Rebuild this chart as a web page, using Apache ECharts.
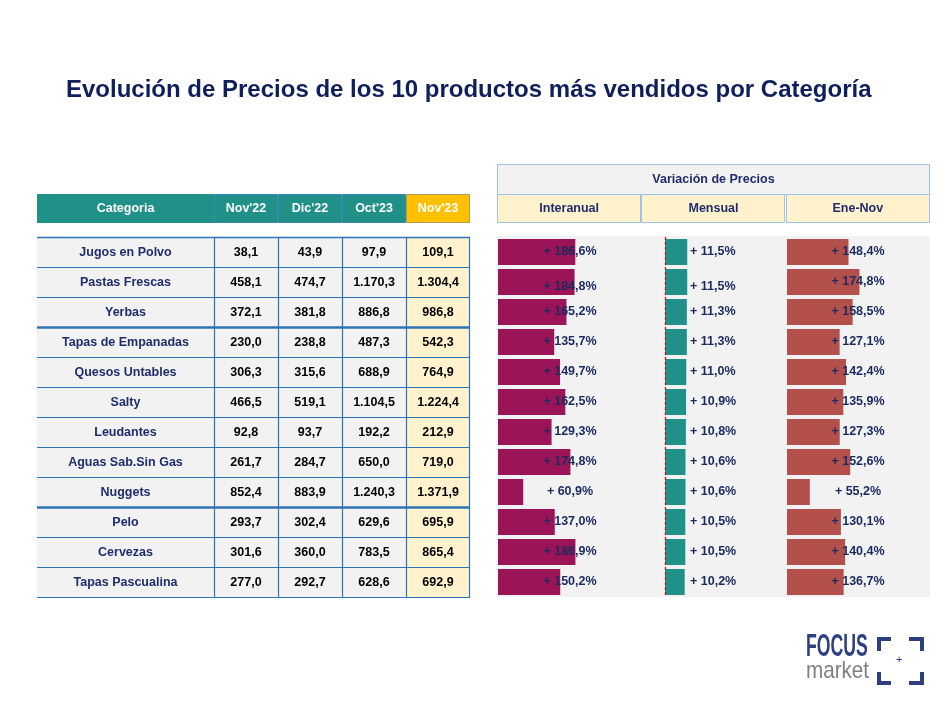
<!DOCTYPE html>
<html><head><meta charset="utf-8">
<script src="https://cdn.jsdelivr.net/npm/echarts@6/dist/echarts.min.js"></script>
<style>html,body{margin:0;padding:0;background:#fff}#c{width:951px;height:717px}</style>
</head><body><div id="c"></div>
<script>
const categories = ['Jugos en Polvo','Pastas Frescas','Yerbas','Tapas de Empanadas','Quesos Untables','Salty','Leudantes','Aguas Sab.Sin Gas','Nuggets','Pelo','Cervezas','Tapas Pascualina'];
const months = ["Nov'22","Dic'22","Oct'23","Nov'23"];
const nov22 = [38.1,458.1,372.1,230.0,306.3,466.5,92.8,261.7,852.4,293.7,301.6,277.0];
const dic22 = [43.9,474.7,381.8,238.8,315.6,519.1,93.7,284.7,883.9,302.4,360.0,292.7];
const oct23 = [97.9,1170.3,886.8,487.3,688.9,1104.5,192.2,650.0,1240.3,629.6,783.5,628.6];
const nov23 = [109.1,1304.4,986.8,542.3,764.9,1224.4,212.9,719.0,1371.9,695.9,865.4,692.9];
const interanual = [186.6,184.8,165.2,135.7,149.7,162.5,129.3,174.8,60.9,137.0,186.9,150.2];
const mensual = [11.5,11.5,11.3,11.3,11.0,10.9,10.8,10.6,10.6,10.5,10.5,10.2];
const eneNov = [148.4,174.8,158.5,127.1,142.4,135.9,127.3,152.6,55.2,130.1,140.4,136.7];
const headerCategoria = 'Categoria';
const varTitle = 'Variación de Precios';
const varHeaders = ['Interanual','Mensual','Ene-Nov'];
const thickAfter = [2, 8];
const titleText = 'Evolución de Precios de los 10 productos más vendidos por Categoría';

const FONT = '"Liberation Sans", Arial, sans-serif';
const TEAL = '#1f9189', GOLD = '#ffc000', CREAM = '#fff2cc', GREY = '#f2f2f2', BLUE = '#2e75b6', NAVY = '#1f2d6b';

function fmt(v){ const p = v.toFixed(1).split('.'); return p[0].replace(/\B(?=(\d{3})+(?!\d))/g,'.') + ',' + p[1]; }
function cell(api, xi, yi){ const c = api.coord([xi, yi]); const s = api.size([1,1]); return {x: Math.round(c[0]-s[0]/2), y: Math.round(c[1]-s[1]/2), w: Math.round(s[0]), h: Math.round(s[1]), cx: c[0], cy: c[1]}; }
function txt(t, x, y, fill, size, align){ return {type:'text', z2:10, style:{text:t, x:x, y:y, align: align||'center', verticalAlign:'middle', fill:fill, font:'bold '+size+'px '+FONT}}; }
function hline(x1,x2,y,w,col){ const yy = w%2 ? Math.round(y)+0.5 : Math.round(y); return {type:'line', z2:5, shape:{x1:x1,y1:yy,x2:x2,y2:yy}, style:{stroke:col,lineWidth:w}}; }
function vline(x,y1,y2,w,col){ const xx = Math.round(x)+0.5; return {type:'line', z2:5, shape:{x1:xx,y1:y1,x2:xx,y2:y2}, style:{stroke:col,lineWidth:w}}; }

const grids=[], xAxes=[], yAxes=[], series=[];
function addGrid(g, xa, ya){ const idx = grids.length; grids.push(Object.assign({containLabel:false}, g)); xAxes.push(Object.assign({gridIndex:idx, show:false}, xa)); yAxes.push(Object.assign({gridIndex:idx, show:false}, ya)); return idx; }

// Left header: Categoria
let g = addGrid({left:37, top:194, width:177, height:29}, {type:'category', data:[headerCategoria]}, {type:'category', data:['h']});
series.push({type:'custom', xAxisIndex:g, yAxisIndex:g, silent:true, data:[[0,0]], renderItem:(p,api)=>{ const b = cell(api,0,0); return {type:'group', children:[
  {type:'rect', shape:{x:b.x,y:b.y,width:b.w,height:b.h}, style:{fill:TEAL}},
  txt(headerCategoria, b.cx, b.cy, '#ffffff', 12.5)]}; }});
// Left header: months
g = addGrid({left:214, top:194, width:256, height:29}, {type:'category', data:months}, {type:'category', data:['h']});
series.push({type:'custom', xAxisIndex:g, yAxisIndex:g, silent:true, data:months.map((m,j)=>[j,0]), renderItem:(p,api)=>{ const j = api.value(0); const b = cell(api,j,0); const last = j===months.length-1; return {type:'group', children:[
  {type:'rect', shape:{x:b.x+0.5,y:b.y+0.5,width:b.w-1,height:b.h-1}, style:{fill: last?GOLD:TEAL, stroke: last?'#b39a50':'#3b86b5', lineWidth:1}},
  txt(months[j], b.cx, b.cy, '#ffffff', 12.5)]}; }});
// Body: category names
g = addGrid({left:37, top:237, width:177, height:360}, {type:'category', data:['n']}, {type:'category', data:categories, inverse:true});
series.push({type:'custom', xAxisIndex:g, yAxisIndex:g, silent:true, data:categories.map((c,i)=>[0,i]), renderItem:(p,api)=>{ const i = api.value(1); const b = cell(api,0,i); const ch = [
  {type:'rect', shape:{x:b.x,y:b.y,width:b.w,height:b.h}, style:{fill:GREY}},
  hline(b.x, b.x+b.w, b.y+b.h, thickAfter.includes(i)?2.5:1, BLUE),
  txt(categories[i], b.cx, b.cy+1, NAVY, 12.5)];
  if(i===0) ch.push(hline(b.x, b.x+b.w, b.y, 1.5, BLUE));
  return {type:'group', children:ch}; }});
// Body: numbers
const cols = [nov22, dic22, oct23, nov23];
const numData = []; categories.forEach((c,i)=>cols.forEach((arr,j)=>numData.push([j,i,arr[i]])));
g = addGrid({left:214, top:237, width:256, height:360}, {type:'category', data:months}, {type:'category', data:categories, inverse:true});
series.push({type:'custom', xAxisIndex:g, yAxisIndex:g, silent:true, data:numData, renderItem:(p,api)=>{ const j = api.value(0), i = api.value(1), v = api.value(2); const b = cell(api,j,i); const ch = [
  {type:'rect', shape:{x:b.x,y:b.y,width:b.w,height:b.h}, style:{fill: j===3?CREAM:GREY}},
  vline(b.x, b.y, b.y+b.h, 1.2, BLUE),
  hline(b.x, b.x+b.w, b.y+b.h, thickAfter.includes(i)?2.5:1, BLUE),
  txt(fmt(v), b.cx, b.cy+1, '#000000', 12.5)];
  if(j===3) ch.push(vline(b.x+b.w-1, b.y, b.y+b.h, 1.2, BLUE));
  if(i===0) ch.push(hline(b.x, b.x+b.w, b.y, 1.5, BLUE));
  return {type:'group', children:ch}; }});
// Right: title cell
g = addGrid({left:497, top:164, width:433, height:30}, {type:'category', data:[varTitle]}, {type:'category', data:['h']});
series.push({type:'custom', xAxisIndex:g, yAxisIndex:g, silent:true, data:[[0,0]], renderItem:(p,api)=>{ const b = cell(api,0,0); return {type:'group', children:[
  {type:'rect', shape:{x:b.x+0.5,y:b.y+0.5,width:b.w-1,height:b.h}, style:{fill:GREY, stroke:'#9dc3e6', lineWidth:1}},
  txt(varTitle, b.cx, b.cy+1, NAVY, 12.5)]}; }});
// Right: sub headers
g = addGrid({left:497, top:194, width:433, height:29}, {type:'category', data:varHeaders}, {type:'category', data:['h']});
series.push({type:'custom', xAxisIndex:g, yAxisIndex:g, silent:true, data:varHeaders.map((m,j)=>[j,0]), renderItem:(p,api)=>{ const j = api.value(0); const b = cell(api,j,0); return {type:'group', children:[
  {type:'rect', shape:{x:b.x+0.5,y:b.y+0.5,width:b.w-1,height:b.h-1}, style:{fill:CREAM, stroke:'#9dc3e6', lineWidth:1}},
  txt(varHeaders[j], b.cx, b.cy, NAVY, 12.5)]}; }});

// Bars
const labelBase = {show:true, color:'#1b2a5e', fontWeight:'bold', fontSize:12.5, fontFamily:FONT, verticalAlign:'middle'};
function barData(arr, shifted){ return arr.map((v,i)=> (shifted && i===1) ? {value:v, label:{offset:[0,5]}} : v); }
g = addGrid({left:498, top:237, width:145, height:360}, {type:'value', min:0, max:350}, {type:'category', data:categories, inverse:true});
series.push({type:'bar', xAxisIndex:g, yAxisIndex:g, data:barData(interanual,true), barWidth:26, itemStyle:{color:'#9b1458'},
  label:Object.assign({}, labelBase, {position:[72,'50%'], align:'center', formatter:p=>'+ '+fmt(p.value)+'%'})});
g = addGrid({left:665, top:237, width:116, height:360}, {type:'value', min:0, max:60}, {type:'category', data:categories, inverse:true});
series.push({type:'bar', xAxisIndex:g, yAxisIndex:g, data:barData(mensual,true), barWidth:26, itemStyle:{color:TEAL},
  label:Object.assign({}, labelBase, {position:[25,'50%'], align:'left', formatter:p=>'+ '+fmt(p.value)+'%'}),
  markLine:{silent:true, z:20, symbol:'none', label:{show:false}, lineStyle:{color:'#ff0000', type:[3,2], width:1.2}, data:[{xAxis:0}]}});
g = addGrid({left:787, top:237, width:145, height:360}, {type:'value', min:0, max:350}, {type:'category', data:categories, inverse:true});
series.push({type:'bar', xAxisIndex:g, yAxisIndex:g, data:barData(eneNov,false), barWidth:26, itemStyle:{color:'#b4504c'},
  label:Object.assign({}, labelBase, {position:[71,'50%'], align:'center', formatter:p=>'+ '+fmt(p.value)+'%'})});

const LOGO = '#2e3f80';
const chart = echarts.init(document.getElementById('c'), null, {renderer:'canvas'});
chart.setOption({
  animation:false,
  backgroundColor:'#ffffff',
  title:{text:titleText, left:61, top:73, textStyle:{fontFamily:FONT, fontSize:24, fontWeight:'bold', color:'#0f1f5c'}},
  grid:grids, xAxis:xAxes, yAxis:yAxes, series:series,
  graphic:[
    {type:'rect', z:0, silent:true, shape:{x:497, y:236, width:433, height:361}, style:{fill:GREY}},
    {type:'text', z:5, left:806, top:632, scaleX:0.57, style:{text:'FOCUS', font:'bold 31px '+FONT, fill:LOGO}},
    {type:'text', z:5, left:806, top:659, scaleX:0.86, style:{text:'market', font:'24px '+FONT, fill:'#7f7f7f'}},
    {type:'polyline', z:5, shape:{points:[[879,651],[879,639],[891,639]]}, style:{stroke:LOGO, lineWidth:4, fill:null}},
    {type:'polyline', z:5, shape:{points:[[909,639],[922,639],[922,651]]}, style:{stroke:LOGO, lineWidth:4, fill:null}},
    {type:'polyline', z:5, shape:{points:[[879,672],[879,683],[891,683]]}, style:{stroke:LOGO, lineWidth:4, fill:null}},
    {type:'polyline', z:5, shape:{points:[[909,683],[922,683],[922,672]]}, style:{stroke:LOGO, lineWidth:4, fill:null}},
    {type:'text', z:5, left:896, top:654, style:{text:'+', font:'11px '+FONT, fill:LOGO}}
  ]
});
</script></body></html>
